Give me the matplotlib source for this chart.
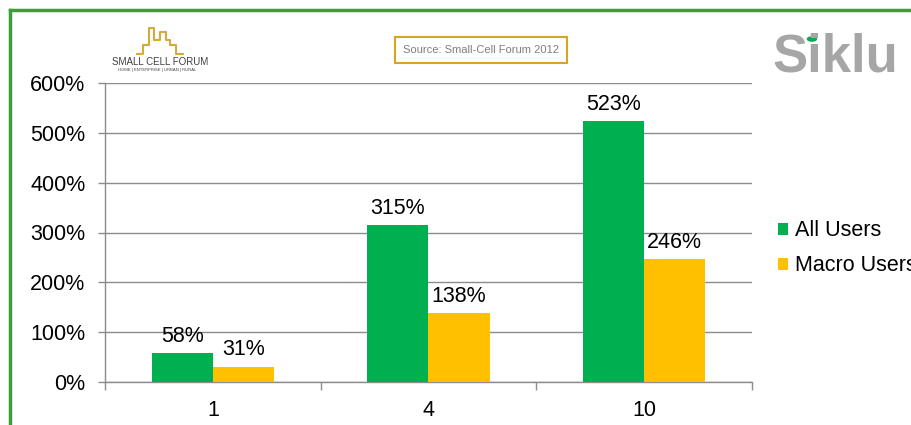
import numpy as np
import matplotlib
matplotlib.use("Agg")
import matplotlib.pyplot as plt
from matplotlib.lines import Line2D
from matplotlib.patches import Circle

# Chart data
categories = ["1", "4", "10"]
all_users = [58, 315, 523]
macro_users = [31, 138, 246]
series_names = ["All Users", "Macro Users"]
y_ticks = [0, 100, 200, 300, 400, 500, 600]

GREEN = "#00B050"
YELLOW = "#FFC000"
GRID = "#8C8C8C"
plt.rcParams["font.family"] = ["Liberation Sans", "DejaVu Sans"]

fig = plt.figure(figsize=(9.12, 4.25), dpi=100)
ax = fig.add_axes([105 / 912, 1 - 382 / 425, 647 / 912, 299 / 425])

x = np.arange(len(categories))
w = 0.283
b1 = ax.bar(x - w / 2, all_users, w, color=GREEN, label=series_names[0], zorder=3)
b2 = ax.bar(x + w / 2, macro_users, w, color=YELLOW, label=series_names[1], zorder=3)

for bars, vals in ((b1, all_users), (b2, macro_users)):
    ax.bar_label(bars, labels=[f"{v}%" for v in vals], padding=4.5, fontsize=15.5, color="black")

ax.set_xlim(-0.5, len(categories) - 0.5)
ax.set_ylim(0, 600)
ax.set_yticks(y_ticks)
ax.set_yticklabels([f"{v}%" for v in y_ticks])
ax.yaxis.grid(True, color=GRID, linewidth=1, zorder=0)
ax.set_axisbelow(True)

ax.set_xticks(x)
ax.set_xticklabels(categories)
ax.set_xticks(np.arange(len(categories) + 1) - 0.5, minor=True)
ax.tick_params(axis="x", which="major", length=0, pad=13, labelsize=15.5)
ax.tick_params(axis="x", which="minor", length=6, color=GRID, width=1)
ax.tick_params(axis="y", length=5, color=GRID, width=1, pad=9, labelsize=15.5)

for s in ("top", "right"):
    ax.spines[s].set_visible(False)
for s in ("left", "bottom"):
    ax.spines[s].set_color(GRID)
    ax.spines[s].set_linewidth(1)

ax.legend(loc="center left", bbox_to_anchor=(1.01, 0.4465), frameon=False, fontsize=15.5,
          handlelength=0.45, handleheight=0.45, handletextpad=0.35, labelspacing=0.65)

# Green slide frame
fig.add_artist(Line2D([10 / 912, 1], [1 - 10 / 425] * 2, color="#3A9E3A", lw=2.5, transform=fig.transFigure))
fig.add_artist(Line2D([10 / 912] * 2, [0, 1 - 10 / 425], color="#3A9E3A", lw=2.5, transform=fig.transFigure))

# Source box
fig.text(481 / 912, 1 - 50 / 425, "Source: Small-Cell Forum 2012", ha="center", va="center",
         fontsize=8, color="#7F7F7F",
         bbox=dict(boxstyle="square,pad=0.75", facecolor="white", edgecolor="#D9A520", linewidth=1.5))

# Small Cell Forum logo (rough)
bx = np.array([137, 143, 143, 149, 149, 154, 154, 160, 160, 166, 166, 170, 170, 176, 176, 183])
by = np.array([54, 54, 45, 45, 28, 28, 40, 40, 32, 32, 40, 40, 45, 45, 54, 54])
fig.add_artist(Line2D(bx / 912, 1 - by / 425, color="#D4AA3A", lw=1.5, transform=fig.transFigure))
fig.text(112 / 912, 1 - 62 / 425, "SMALL CELL FORUM", fontsize=7, color="#404040", va="center")
fig.text(118 / 912, 1 - 70 / 425, "HOME | ENTERPRISE | URBAN | RURAL", fontsize=3, color="#404040", va="center")

# Siklu logo
fig.text(772 / 912, 1 - 58 / 425, "Siklu", fontsize=38, fontweight="bold", color="#A6A6A6", va="center")
fig.add_artist(Circle((812 / 912, 1 - 39 / 425), 4.5 / 912, color=GREEN, transform=fig.transFigure))

fig.savefig("out.png", dpi=100)
